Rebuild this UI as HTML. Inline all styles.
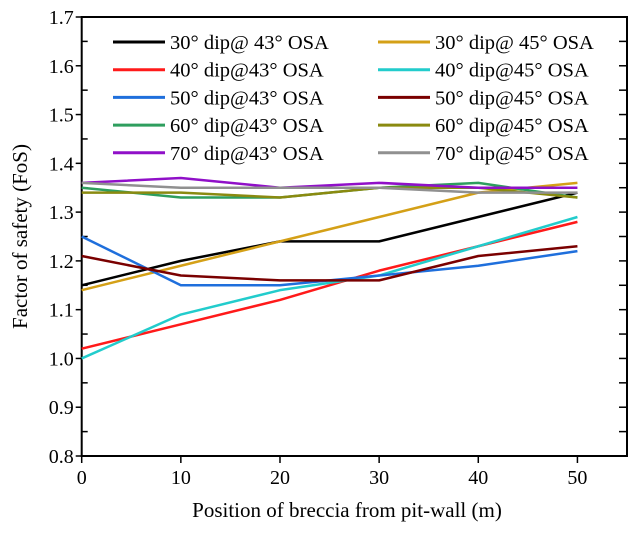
<!DOCTYPE html>
<html><head><meta charset="utf-8"><style>
body{margin:0;background:#fff}
svg text{font-family:"Liberation Serif",serif;fill:#000}
</style></head><body>
<svg id="chart" width="638" height="531" xmlns="http://www.w3.org/2000/svg">
<g id="grid"></g>
<g id="series"></g>
<g id="legend"></g>
</svg>
<script>
const positions=[0,10,20,30,40,50];
const seriesNames=["30° dip@ 43° OSA","30° dip@ 45° OSA","40° dip@43° OSA","40° dip@45° OSA","50° dip@43° OSA","50° dip@45° OSA","60° dip@43° OSA","60° dip@45° OSA","70° dip@43° OSA","70° dip@45° OSA"];
const s30_43=[1.15,1.20,1.24,1.24,1.29,1.34];
const s30_45=[1.14,1.19,1.24,1.29,1.34,1.36];
const s40_43=[1.02,1.07,1.12,1.18,1.23,1.28];
const s40_45=[1.00,1.09,1.14,1.17,1.23,1.29];
const s50_43=[1.25,1.15,1.15,1.17,1.19,1.22];
const s50_45=[1.21,1.17,1.16,1.16,1.21,1.23];
const s60_43=[1.35,1.33,1.33,1.35,1.36,1.33];
const s60_45=[1.34,1.34,1.33,1.35,1.35,1.33];
const s70_43=[1.36,1.37,1.35,1.36,1.35,1.35];
const s70_45=[1.36,1.35,1.35,1.35,1.34,1.34];
const xTicks=[0,10,20,30,40,50];
const yTicks=[0.8,0.9,1.0,1.1,1.2,1.3,1.4,1.5,1.6,1.7];
const colors=["#000000","#d4a017","#ff1a1a","#22cccc","#1f6fdc","#7a0000","#2e9e5e","#8a8a10","#9010c8","#909090"];
const seriesData=[s30_43,s30_45,s40_43,s40_45,s50_43,s50_45,s60_43,s60_45,s70_43,s70_45];
const L=81.7,R=627,T=17,B=456,xMax=55,yMin=0.8,yMax=1.7;
const X=v=>L+v/xMax*(R-L), Y=v=>B-(v-yMin)/(yMax-yMin)*(B-T);
const NS="http://www.w3.org/2000/svg";
function mk(tag,attrs,parent,txt){const e=document.createElementNS(NS,tag);for(const k in attrs)e.setAttribute(k,attrs[k]);if(txt!==undefined)e.textContent=txt;parent.appendChild(e);return e;}
const g=document.getElementById('grid');
const frame=mk('rect',{x:L,y:T,width:R-L,height:B-T,fill:'none',stroke:'#000','stroke-width':2},g);


xTicks.forEach(v=>{
 const t=mk('line',{x1:X(v),x2:X(v),y1:B,y2:B+7,stroke:'#000','stroke-width':1.5},g);
 
 
 const l=mk('text',{x:X(v),y:B+28,'text-anchor':'middle','font-size':20},g,String(v));
 
 
});
yTicks.forEach((v,i)=>{
 const t=mk('line',{x1:L-6,x2:L,y1:Y(v),y2:Y(v),stroke:'#000','stroke-width':1.5},g);
 
 
 const t2=mk('line',{x1:R-8,x2:R,y1:Y(v),y2:Y(v),stroke:'#000','stroke-width':1.5},g);
 
 
 const l=mk('text',{x:L-8,y:Y(v)+7,'text-anchor':'end','font-size':20},g,v.toFixed(1));
 
 
 if(i<yTicks.length-1){
  const m=(v+yTicks[i+1])/2;
  const a=mk('line',{x1:L,x2:L+6,y1:Y(m),y2:Y(m),stroke:'#000','stroke-width':1.5},g);
  
  
  const b=mk('line',{x1:R-8,x2:R,y1:Y(m),y2:Y(m),stroke:'#000','stroke-width':1.5},g);
  
  
 }
});
const xt=mk('text',{x:347,y:517,'text-anchor':'middle','font-size':21},g,'Position of breccia from pit-wall (m)');


const yt=mk('text',{x:0,y:0,'text-anchor':'middle','font-size':21,transform:`translate(27,${(T+B)/2}) rotate(-90)`},g,'Factor of safety (FoS)');


const sg=document.getElementById('series');
seriesData.forEach((d,i)=>{
 const p=mk('polyline',{points:d.map((v,j)=>X(positions[j])+','+Y(v)).join(' '),fill:'none',stroke:colors[i],'stroke-width':2.5,'stroke-linejoin':'round'},sg);
 
 
});
const lg=document.getElementById('legend');
seriesNames.forEach((n,i)=>{
 const col=i%2,row=Math.floor(i/2);
 const x0=col?378:113,y0=42+row*27.7;
 const ln=mk('line',{x1:x0,x2:x0+52,y1:y0,y2:y0,stroke:colors[i],'stroke-width':3},lg);
 
 
 const tx=mk('text',{x:x0+57,y:y0+7,'font-size':20.5},lg,n);
 
 
});
</script>
</body></html>
